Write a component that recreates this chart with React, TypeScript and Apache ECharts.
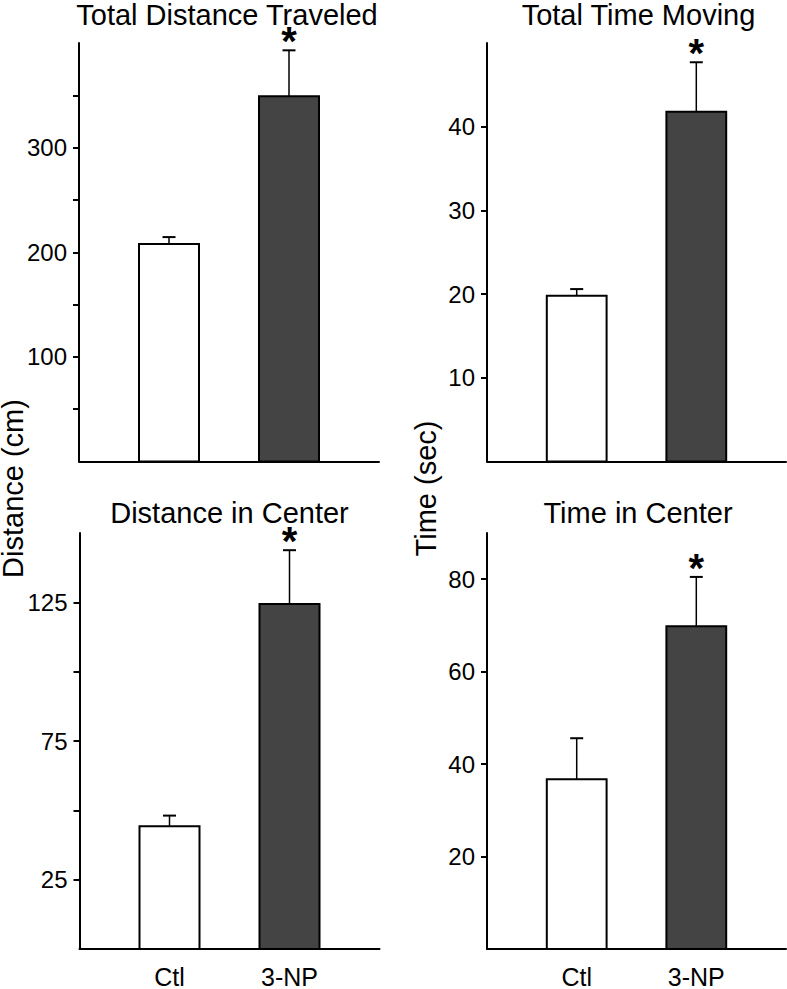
import React, { useEffect, useRef } from "react";
import * as echarts from "echarts";

const categories = ["Ctl", "3-NP"];
const categoryPositions = [3, 7];
const panelTitles = ["Total Distance Traveled", "Total Time Moving", "Distance in Center", "Time in Center"];

const totalDistanceMean = [208, 349];
const totalDistanceSem = [6.5, 44];
const totalTimeMean = [19.8, 41.8];
const totalTimeSem = [0.8, 5.9];
const centerDistanceMean = [44.3, 124.4];
const centerDistanceSem = [3.8, 19.4];
const centerTimeMean = [36.7, 69.8];
const centerTimeSem = [8.9, 10.7];
const significant = [false, true];

const yMax = [400, 50, 150, 90];
const yTickValues = [
  [50, 100, 150, 200, 250, 300, 350],
  [10, 20, 30, 40],
  [25, 50, 75, 100, 125],
  [20, 40, 60, 80],
];
const yLabelValues = [
  [100, 200, 300],
  [10, 20, 30, 40],
  [25, 75, 125],
  [20, 40, 60, 80],
];
const yAxisTitles = ["Distance (cm)", "Time (sec)"];

const FONT = '"Liberation Sans", Arial, Helvetica, sans-serif';

export default function App() {
  const ref = useRef<HTMLDivElement>(null);
  useEffect(() => {
    document.body.style.margin = "0";
    if (!ref.current) return;
    const chart = echarts.init(ref.current, null, { renderer: "svg" });

    const means = [totalDistanceMean, totalTimeMean, centerDistanceMean, centerTimeMean];
    const sems = [totalDistanceSem, totalTimeSem, centerDistanceSem, centerTimeSem];
    const grids = [
      { left: 79, top: 43, width: 300, height: 418.5 },
      { left: 487, top: 43, width: 299, height: 418.5 },
      { left: 79.5, top: 533, width: 300, height: 419 },
      { left: 487, top: 533, width: 299, height: 419 },
    ];
    const barFills = ["#ffffff", "#444444"];
    const barUnits = 2;

    const xAxes = grids.map((_, i) => ({
      type: "value",
      gridIndex: i,
      min: 0,
      max: 10,
      axisLine: { show: true, lineStyle: { color: "#000", width: 2 } },
      axisTick: { show: false },
      splitLine: { show: false },
      axisLabel: {
        show: i >= 2,
        customValues: categoryPositions,
        formatter: (v: number) => categories[categoryPositions.indexOf(v)] ?? "",
        fontSize: 25,
        fontFamily: FONT,
        color: "#000",
        margin: 15,
      },
    }));
    const yAxes = grids.map((_, i) => ({
      type: "value",
      gridIndex: i,
      min: 0,
      max: yMax[i],
      axisLine: { show: true, lineStyle: { color: "#000", width: 2 } },
      axisTick: { show: true, customValues: yTickValues[i], length: 6, lineStyle: { color: "#000", width: 2 } },
      splitLine: { show: false },
      axisLabel: {
        customValues: yLabelValues[i],
        fontSize: 24,
        fontFamily: FONT,
        color: "#000",
        margin: 12,
      },
    }));

    const series = grids.map((_, i) => ({
      type: "custom",
      xAxisIndex: i,
      yAxisIndex: i,
      data: categories.map((_, c) => [categoryPositions[c], means[i][c], sems[i][c], significant[c] ? 1 : 0, c]),
      renderItem: (params: any, api: any) => {
        const x = api.value(0);
        const v = api.value(1);
        const e = api.value(2);
        const sig = api.value(3);
        const c = api.value(4);
        const base = api.coord([x, 0]);
        const top = api.coord([x, v]);
        const errTop = api.coord([x, v + e]);
        const w = api.size([barUnits, 0])[0];
        const children: any[] = [
          {
            type: "line",
            shape: { x1: top[0], y1: top[1], x2: errTop[0], y2: errTop[1] },
            style: { stroke: "#000", lineWidth: 1.5 },
          },
          {
            type: "line",
            shape: { x1: errTop[0] - 6.5, y1: errTop[1], x2: errTop[0] + 6.5, y2: errTop[1] },
            style: { stroke: "#000", lineWidth: 2 },
          },
          {
            type: "rect",
            shape: { x: base[0] - w / 2, y: top[1], width: w, height: base[1] - top[1] },
            style: { fill: barFills[c], stroke: "#000", lineWidth: 2 },
          },
        ];
        if (sig) {
          children.push({
            type: "text",
            style: {
              text: "*",
              x: errTop[0],
              y: errTop[1] - 9,
              align: "center",
              verticalAlign: "middle",
              fontSize: 40,
              lineHeight: 16,
              fontWeight: "bold",
              fontFamily: FONT,
              fill: "#000",
            },
          });
        }
        return { type: "group", children };
      },
    }));

    const titlePos = [
      [227, 14.5],
      [638.5, 14.5],
      [229.5, 512.5],
      [638, 512.5],
    ];
    const graphics: any[] = panelTitles.map((t, i) => ({
      type: "text",
      x: titlePos[i][0],
      y: titlePos[i][1],
      style: {
        text: t,
        align: "center",
        verticalAlign: "middle",
        fontSize: 29,
        lineHeight: 26,
        fontFamily: FONT,
        fill: "#000",
      },
    }));
    const yTitlePos = [
      [13, 488.5],
      [426, 488.5],
    ];
    yAxisTitles.forEach((t, i) => {
      graphics.push({
        type: "text",
        x: yTitlePos[i][0],
        y: yTitlePos[i][1],
        rotation: Math.PI / 2,
        style: {
          text: t,
          align: "center",
          verticalAlign: "middle",
          fontSize: 29,
          lineHeight: 22,
          fontFamily: FONT,
          fill: "#000",
        },
      });
    });

    chart.setOption({
      animation: false,
      backgroundColor: "#ffffff",
      grid: grids,
      xAxis: xAxes,
      yAxis: yAxes,
      series,
      graphic: graphics,
    });
    return () => chart.dispose();
  }, []);
  return <div ref={ref} style={{ width: 787, height: 989 }} />;
}
